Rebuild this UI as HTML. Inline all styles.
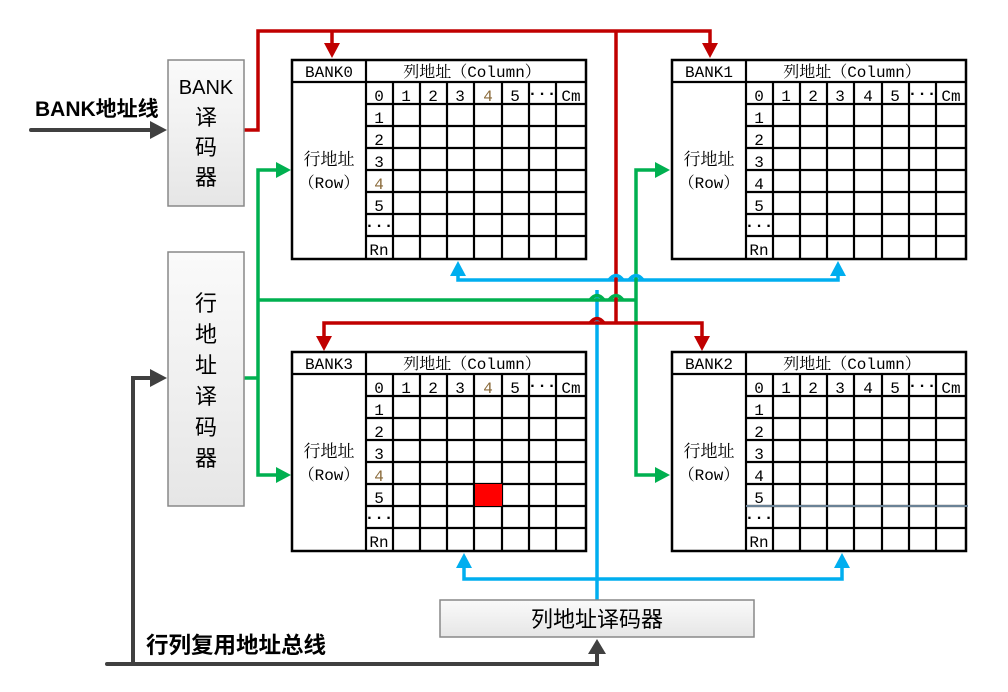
<!DOCTYPE html>
<html><head><meta charset="utf-8"><style>
html,body{margin:0;padding:0;background:#fff;}
svg text{font-family:"Liberation Mono","Noto Serif CJK SC",monospace;font-size:16px;}
.s{font-family:"Liberation Sans","Noto Sans CJK SC",sans-serif;}
</style></head><body>
<svg width="1008" height="687" viewBox="0 0 1008 687" xmlns="http://www.w3.org/2000/svg">
<defs>
<linearGradient id="gb" x1="0" y1="0" x2="0" y2="1"><stop offset="0" stop-color="#fafafa"/><stop offset="1" stop-color="#e6e6e6"/></linearGradient>
<g id="grid">
<rect x="0" y="0" width="294" height="199" fill="#fff" stroke="#000" stroke-width="2.5"/>
<path d="M74 0V199M0 22H294M101 22V199M128 22V199M155 22V199M182 22V199M210 22V199M237 22V199M264 22V199M74 44H294M74 66H294M74 88H294M74 110H294M74 132H294M74 154H294M74 176H294" stroke="#000" stroke-width="2.2" fill="none"/>
</g>
</defs>

<g transform="translate(292,60)"><use href="#grid"/>
<text x="37" y="17" text-anchor="middle">BANK0</text><text x="180" y="17" text-anchor="middle">列地址（Column）</text>
<text x="37" y="105" text-anchor="middle" style="font-size:17px">行地址</text><text x="37" y="128" text-anchor="middle">（Row）</text>
<text x="87" y="41" text-anchor="middle">0</text><text x="114" y="41" text-anchor="middle">1</text><text x="141" y="41" text-anchor="middle">2</text><text x="168" y="41" text-anchor="middle">3</text><text x="196" y="41" text-anchor="middle" fill="#8a6a3a">4</text><text x="223" y="41" text-anchor="middle">5</text><text x="250" y="38" text-anchor="middle" font-weight="bold">···</text><text x="279" y="41" text-anchor="middle">Cm</text>
<text x="87" y="63" text-anchor="middle">1</text><text x="87" y="85" text-anchor="middle">2</text><text x="87" y="107" text-anchor="middle">3</text><text x="87" y="129" text-anchor="middle" fill="#8a6a3a">4</text><text x="87" y="151" text-anchor="middle">5</text><text x="87" y="170" text-anchor="middle" font-weight="bold">···</text><text x="87" y="195" text-anchor="middle">Rn</text>
</g>
<g transform="translate(672,60)"><use href="#grid"/>
<text x="37" y="17" text-anchor="middle">BANK1</text><text x="180" y="17" text-anchor="middle">列地址（Column）</text>
<text x="37" y="105" text-anchor="middle" style="font-size:17px">行地址</text><text x="37" y="128" text-anchor="middle">（Row）</text>
<text x="87" y="41" text-anchor="middle">0</text><text x="114" y="41" text-anchor="middle">1</text><text x="141" y="41" text-anchor="middle">2</text><text x="168" y="41" text-anchor="middle">3</text><text x="196" y="41" text-anchor="middle">4</text><text x="223" y="41" text-anchor="middle">5</text><text x="250" y="38" text-anchor="middle" font-weight="bold">···</text><text x="279" y="41" text-anchor="middle">Cm</text>
<text x="87" y="63" text-anchor="middle">1</text><text x="87" y="85" text-anchor="middle">2</text><text x="87" y="107" text-anchor="middle">3</text><text x="87" y="129" text-anchor="middle">4</text><text x="87" y="151" text-anchor="middle">5</text><text x="87" y="170" text-anchor="middle" font-weight="bold">···</text><text x="87" y="195" text-anchor="middle">Rn</text>
</g>
<g transform="translate(292,352)"><use href="#grid"/>
<rect x="183" y="132" width="27" height="22" fill="#f00"/>
<text x="37" y="17" text-anchor="middle">BANK3</text><text x="180" y="17" text-anchor="middle">列地址（Column）</text>
<text x="37" y="105" text-anchor="middle" style="font-size:17px">行地址</text><text x="37" y="128" text-anchor="middle">（Row）</text>
<text x="87" y="41" text-anchor="middle">0</text><text x="114" y="41" text-anchor="middle">1</text><text x="141" y="41" text-anchor="middle">2</text><text x="168" y="41" text-anchor="middle">3</text><text x="196" y="41" text-anchor="middle" fill="#8a6a3a">4</text><text x="223" y="41" text-anchor="middle">5</text><text x="250" y="38" text-anchor="middle" font-weight="bold">···</text><text x="279" y="41" text-anchor="middle">Cm</text>
<text x="87" y="63" text-anchor="middle">1</text><text x="87" y="85" text-anchor="middle">2</text><text x="87" y="107" text-anchor="middle">3</text><text x="87" y="129" text-anchor="middle" fill="#8a6a3a">4</text><text x="87" y="151" text-anchor="middle">5</text><text x="87" y="170" text-anchor="middle" font-weight="bold">···</text><text x="87" y="195" text-anchor="middle">Rn</text>
</g>
<g transform="translate(672,352)"><use href="#grid"/>
<line x1="74" y1="154" x2="296" y2="154" stroke="#6a8296" stroke-width="2"/>
<text x="37" y="17" text-anchor="middle">BANK2</text><text x="180" y="17" text-anchor="middle">列地址（Column）</text>
<text x="37" y="105" text-anchor="middle" style="font-size:17px">行地址</text><text x="37" y="128" text-anchor="middle">（Row）</text>
<text x="87" y="41" text-anchor="middle">0</text><text x="114" y="41" text-anchor="middle">1</text><text x="141" y="41" text-anchor="middle">2</text><text x="168" y="41" text-anchor="middle">3</text><text x="196" y="41" text-anchor="middle">4</text><text x="223" y="41" text-anchor="middle">5</text><text x="250" y="38" text-anchor="middle" font-weight="bold">···</text><text x="279" y="41" text-anchor="middle">Cm</text>
<text x="87" y="63" text-anchor="middle">1</text><text x="87" y="85" text-anchor="middle">2</text><text x="87" y="107" text-anchor="middle">3</text><text x="87" y="129" text-anchor="middle">4</text><text x="87" y="151" text-anchor="middle">5</text><text x="87" y="170" text-anchor="middle" font-weight="bold">···</text><text x="87" y="195" text-anchor="middle">Rn</text>
</g>

<g stroke="#00aeef" stroke-width="3.5" fill="none">
<path d="M597 600V290"/>
<path d="M458 268V280H838V268"/>
<path d="M464 560V579H842V560"/>
</g>
<g fill="#00aeef">
<polygon points="450,276 466,276 458,261"/><polygon points="830,276 846,276 838,261"/>
<polygon points="456,568 472,568 464,553"/><polygon points="834,568 850,568 842,553"/>
</g>
<g stroke="#00b050" stroke-width="3.5" fill="none">
<path d="M244 378H258"/>
<path d="M278 170H258V475H278"/>
<path d="M258 300H636"/>
<path d="M656 170H636V475H656"/>
</g>
<g fill="#00b050">
<polygon points="276,162 276,178 291,170"/><polygon points="276,467 276,483 291,475"/>
<polygon points="655,162 655,178 670,170"/><polygon points="655,467 655,483 670,475"/>
</g>
<g stroke="#c00000" stroke-width="3.5" fill="none">
<path d="M244 130H258V31H710V44"/>
<path d="M332 31V44"/>
<path d="M616 31V323"/>
<path d="M324 337V323H702V337"/>
</g>
<g fill="#c00000">
<polygon points="324,43 340,43 332,58"/><polygon points="702,43 718,43 710,58"/>
<polygon points="316,336 332,336 324,351"/><polygon points="694,336 710,336 702,351"/>
</g>
<g fill="none" stroke-width="3.5">
<path d="M590 300 q7 -9 14 0" stroke="#00b050"/>
<path d="M609 280 q7 -9 14 0" stroke="#00aeef"/>
<path d="M629 280 q7 -9 14 0" stroke="#00aeef"/>
<path d="M609 300 q7 -9 14 0" stroke="#00b050"/>
<path d="M590 323 q7 -9 14 0" stroke="#c00000"/>
</g>
<g stroke="#404040" stroke-width="4" fill="none" stroke-linecap="round">
<path d="M31 130H152"/>
<path d="M107 664H597V652"/>
<path d="M133 664V378H152"/>
</g>
<g fill="#404040">
<polygon points="150,121 150,139 167,130"/>
<polygon points="150,369 150,387 167,378"/>
<polygon points="588,654 606,654 597,639"/>
</g>

<rect x="168" y="60" width="76" height="146" fill="url(#gb)" stroke="#888" stroke-width="1.5"/>
<text class="s" x="206" y="94" text-anchor="middle" style="font-size:20px">BANK</text>
<text class="s" x="206" y="125" text-anchor="middle" style="font-size:22px">译</text>
<text class="s" x="206" y="155" text-anchor="middle" style="font-size:22px">码</text>
<text class="s" x="206" y="185" text-anchor="middle" style="font-size:22px">器</text>
<rect x="168" y="252" width="76" height="254" fill="url(#gb)" stroke="#888" stroke-width="1.5"/>
<text class="s" x="206" y="311" text-anchor="middle" style="font-size:22px">行</text>
<text class="s" x="206" y="342" text-anchor="middle" style="font-size:22px">地</text>
<text class="s" x="206" y="373" text-anchor="middle" style="font-size:22px">址</text>
<text class="s" x="206" y="404" text-anchor="middle" style="font-size:22px">译</text>
<text class="s" x="206" y="435" text-anchor="middle" style="font-size:22px">码</text>
<text class="s" x="206" y="466" text-anchor="middle" style="font-size:22px">器</text>
<rect x="440" y="600" width="314" height="37" fill="url(#gb)" stroke="#888" stroke-width="1.5"/>
<text class="s" x="597" y="627" text-anchor="middle" style="font-size:22px">列地址译码器</text>

<text class="s" x="35" y="116" style="font-size:21px;font-weight:bold">BANK地址线</text>
<text class="s" x="146" y="653" style="font-size:22.5px;font-weight:bold">行列复用地址总线</text>
</svg>
</body></html>
